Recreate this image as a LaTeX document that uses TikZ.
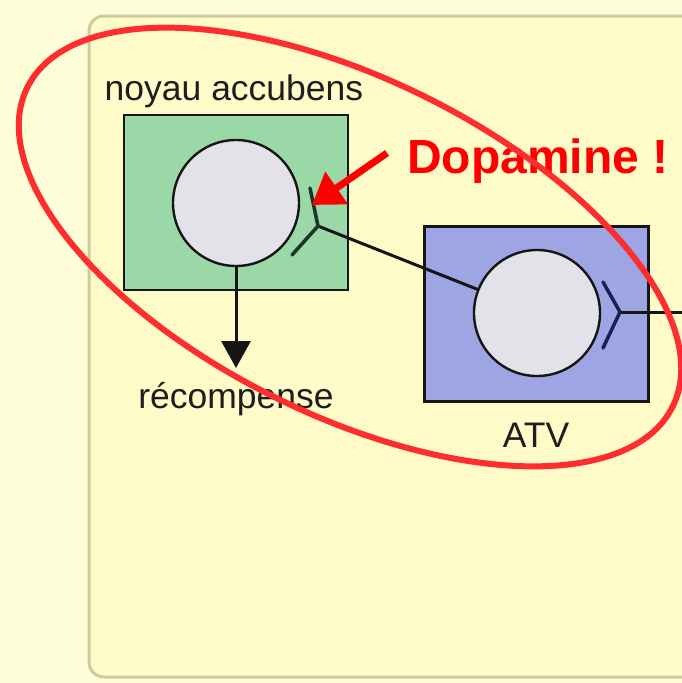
\documentclass[tikz,border=0pt]{standalone}
\usepackage{fontspec}
\setmainfont{Liberation Sans}
\usetikzlibrary{arrows.meta}
\definecolor{outerbg}{HTML}{FDFDD8}
\definecolor{panelbg}{HTML}{FEFBC8}
\definecolor{panelborder}{HTML}{CFCB9B}
\definecolor{greenfill}{HTML}{9AD8A7}
\definecolor{bluefill}{HTML}{9EA5E3}
\definecolor{neuronfill}{HTML}{E2E2E8}
\definecolor{darkline}{HTML}{151515}
\definecolor{recgreen}{HTML}{1C3526}
\definecolor{recblue}{HTML}{1A2052}
\definecolor{ellred}{HTML}{FF2E2E}
\definecolor{labelgray}{HTML}{1E1E1E}
\begin{document}
\begin{tikzpicture}[x=1pt,y=-1pt,
  regionbox/.style={draw=darkline, line width=2.2pt, minimum width=224pt, minimum height=175pt, inner sep=0pt},
  neuron/.style={circle, draw=darkline, line width=2.4pt, fill=neuronfill, minimum size=126pt, inner sep=0pt},
  lbl/.style={font=\fontsize{35.5}{40}\selectfont, text=labelgray, inner sep=0pt, anchor=base},
  conn/.style={draw=darkline, line width=3pt},
  recep/.style={line width=3.5pt, line cap=round, line join=miter},
  dopa/.style={font=\fontsize{48}{56}\selectfont\bfseries, text=red, inner sep=0pt, anchor=base west},
  redarrow/.style={draw=red, line width=7pt, -{Triangle[length=30pt,width=38pt]}}
]
\useasboundingbox (0,0) rectangle (682,683);
\fill[outerbg] (0,0) rectangle (682,683);
\draw[panelborder, line width=3pt, fill=panelbg, rounded corners=15pt] (89,16) rectangle (730,677);

% regions
\node[regionbox, fill=greenfill] (nac) at (236,202.5) {};
\node[regionbox, fill=bluefill] (atv) at (536.5,314) {};

% neurons
\node[neuron] (c1) at (236,203) {};
\node[neuron] (c2) at (537,313) {};

% labels
\node[lbl] (l1) at (234,100) {noyau accubens};
\node[lbl] (l2) at (236,408) {récompense};
\node[lbl] (l3) at (536,447) {ATV};

% coordinates of synapses
\coordinate (ya) at (318,226);
\coordinate (ya1) at (310,188);
\coordinate (ya2) at (292,255);
\coordinate (yb) at (620,312);
\coordinate (yb1) at (603,282);
\coordinate (yb2) at (603,348);
\coordinate (rightend) at (682,312);
\coordinate (rec) at (236,368);

% connectors
\draw[conn] (ya) -- (c2);
\draw[conn] (yb) -- (rightend);
\draw[conn, -{Triangle[length=27pt,width=29pt]}] (c1.south) -- (rec);
\draw[recep, draw=recgreen] (ya1) -- (ya) -- (ya2);
\draw[recep, draw=recblue] (yb1) -- (yb) -- (yb2);

% dopamine
\node[dopa] (dop) at (407,173) {Dopamine !};
\coordinate (dt) at (387,153);
\coordinate (dh) at (312,205);
\draw[redarrow] (dt) -- (dh);

% red ellipse
\draw[ellred, line width=6pt, rotate around={-26.3:(350,247)}] (350,247) ellipse [x radius=360, y radius=168];
\end{tikzpicture}
\end{document}
